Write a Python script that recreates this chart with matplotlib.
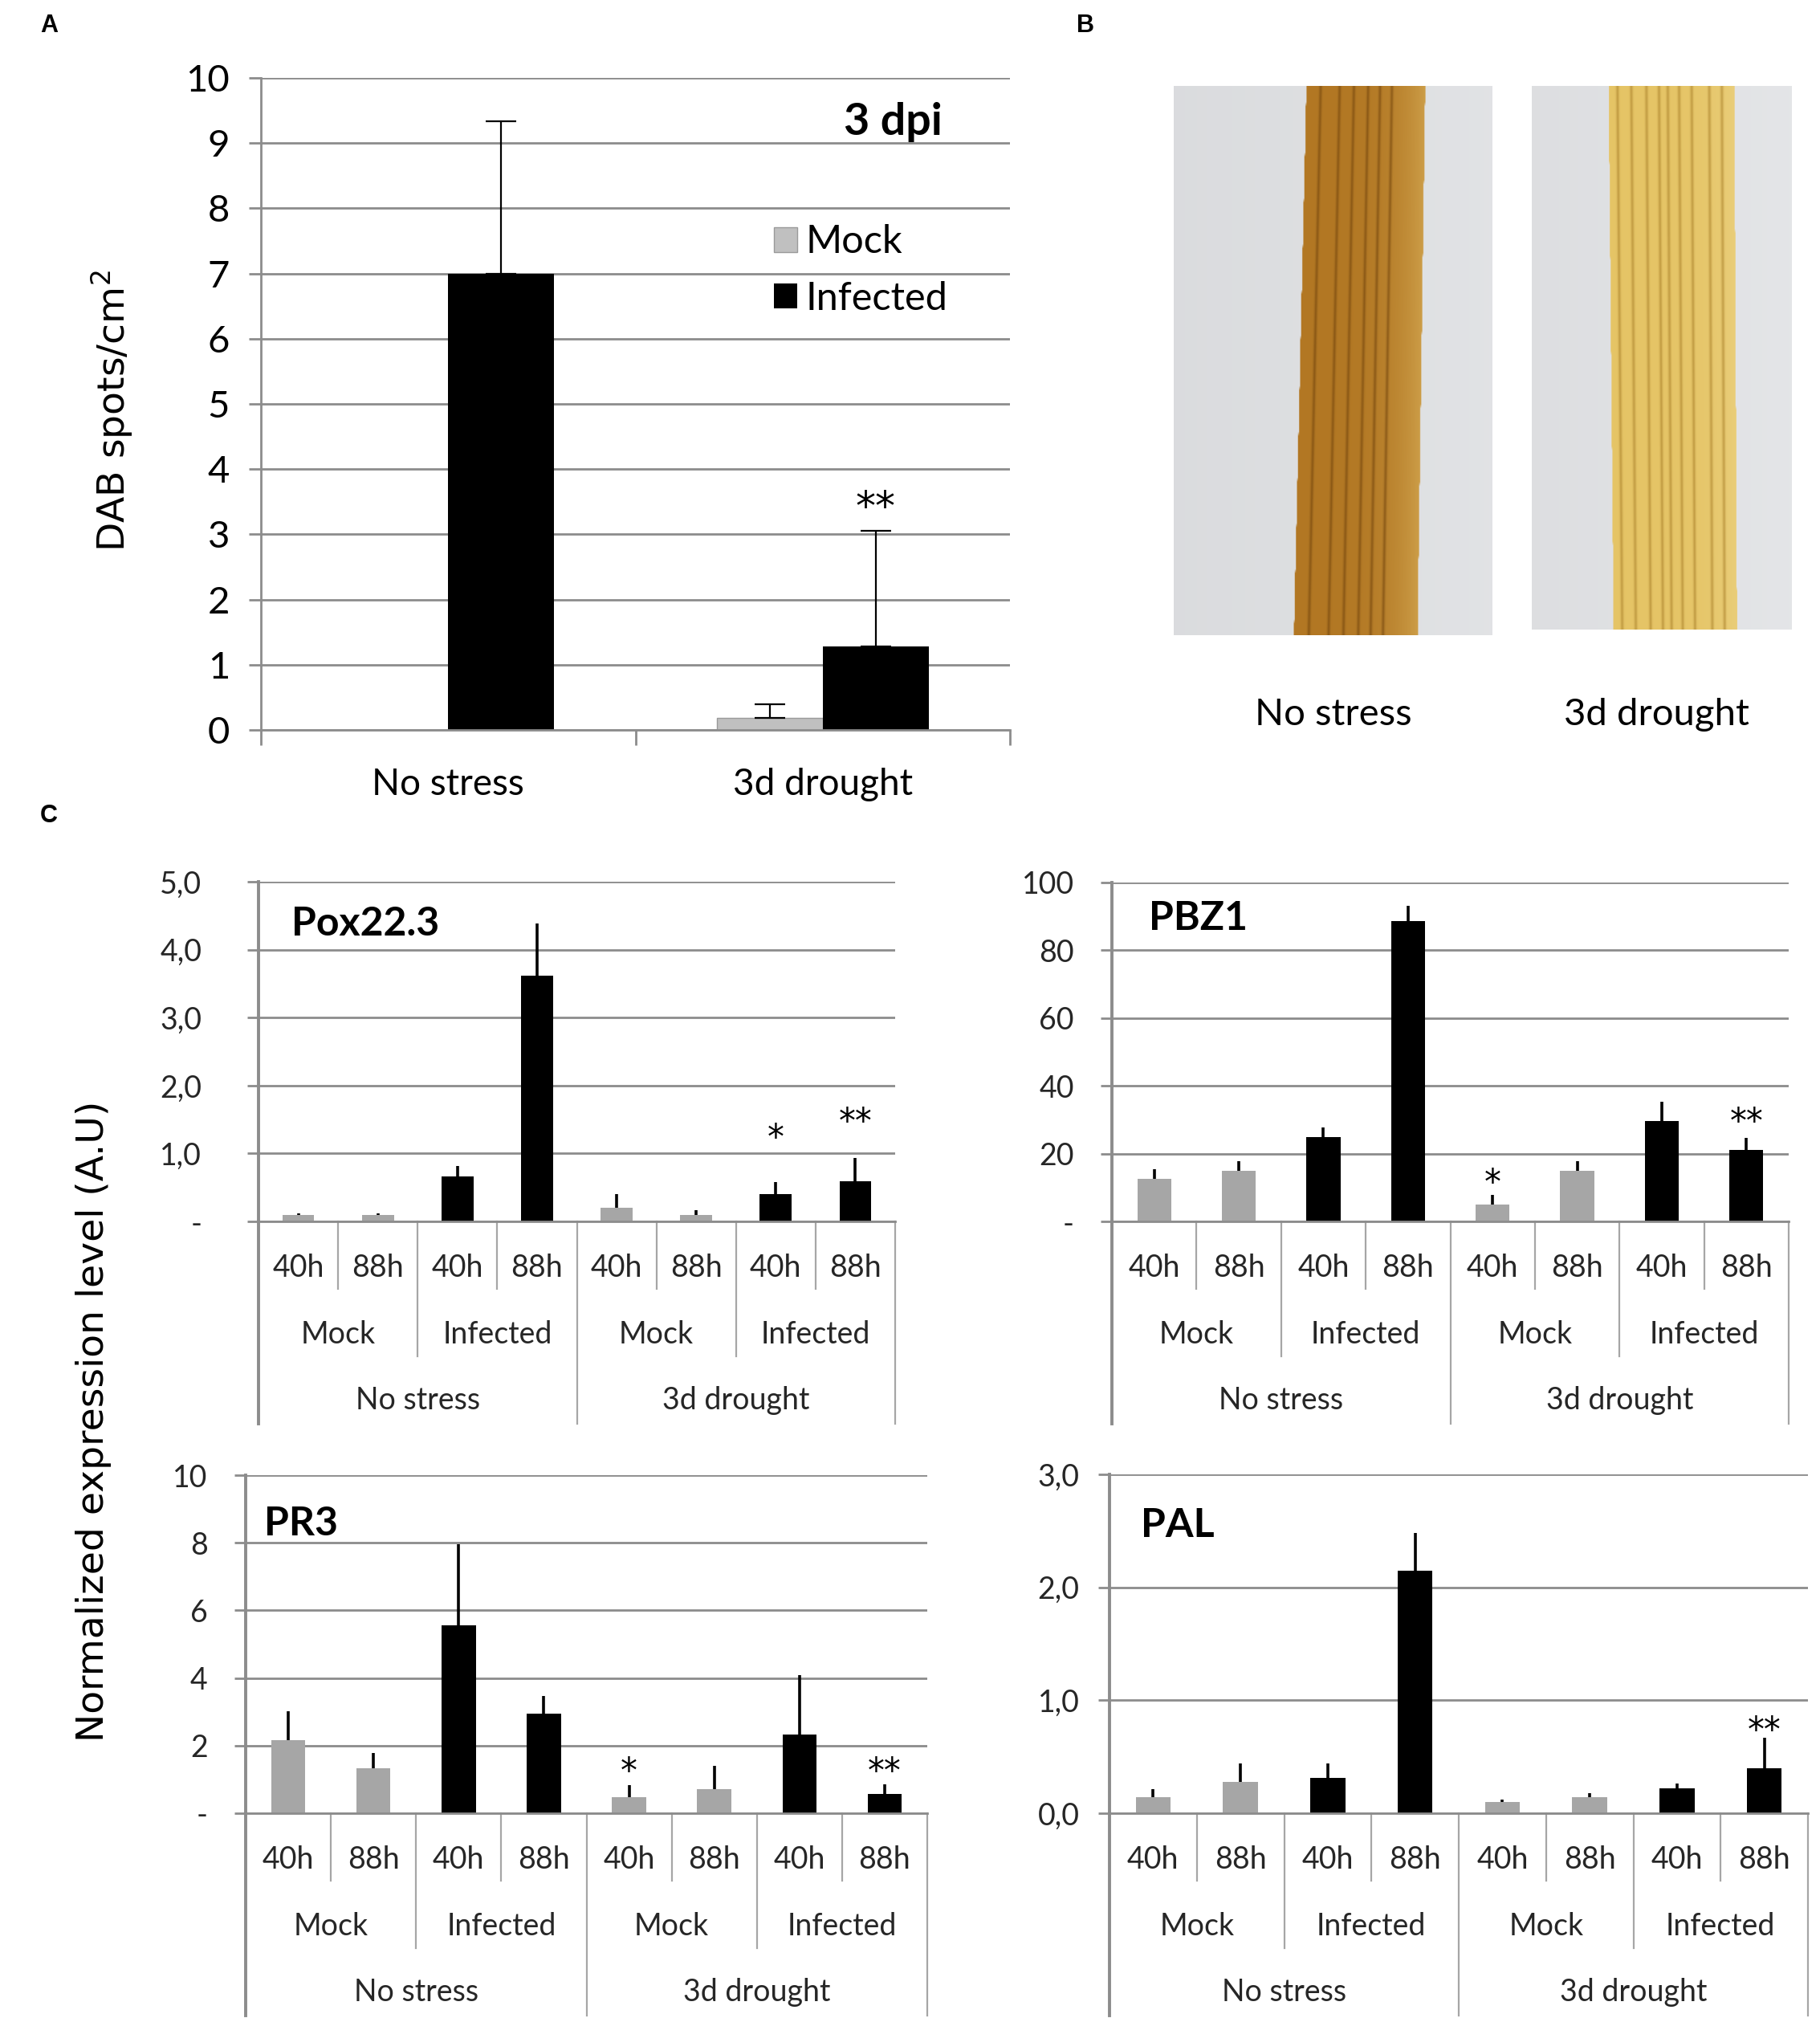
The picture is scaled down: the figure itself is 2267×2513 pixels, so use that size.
import numpy as np
import matplotlib
matplotlib.use("Agg")
import matplotlib.pyplot as plt
from matplotlib.transforms import blended_transform_factory

plt.rcParams['font.family'] = ['Lato', 'DejaVu Sans']

# ---- panel A data ----
a_groups = ['No stress', '3d drought']
a_mock = [0.0, 0.19]
a_mock_err = [0.0, 0.21]
a_inf = [7.0, 1.28]
a_inf_err = [2.34, 1.78]
a_sig_idx = [1]
a_sig_txt = ['**']
a_sig_y = [3.59]

# ---- panel C data ----
hours = ['40h', '88h', '40h', '88h', '40h', '88h', '40h', '88h']
treatments = ['Mock', 'Infected', 'Mock', 'Infected']
conditions = ['No stress', '3d drought']
infected = [0, 0, 1, 1, 0, 0, 1, 1]

pox_vals = [0.09, 0.09, 0.66, 3.62, 0.20, 0.09, 0.40, 0.59]
pox_err = [0.03, 0.03, 0.16, 0.76, 0.20, 0.07, 0.18, 0.34]
pox_sig_idx = [6, 7]
pox_sig_txt = ['*', '**']
pox_sig_y = [1.38, 1.61]
pox_ticks = [0, 1, 2, 3, 4, 5]
pox_ticklabels = ['-', '1,0', '2,0', '3,0', '4,0', '5,0']

pbz_vals = [12.5, 15.0, 24.9, 88.7, 4.9, 15.0, 29.7, 21.0]
pbz_err = [3.0, 2.8, 2.8, 4.5, 3.0, 2.8, 5.7, 3.7]
pbz_sig_idx = [4, 7]
pbz_sig_txt = ['*', '**']
pbz_sig_y = [14.2, 32.3]
pbz_ticks = [0, 20, 40, 60, 80, 100]
pbz_ticklabels = ['-', '20', '40', '60', '80', '100']

pr3_vals = [2.16, 1.33, 5.57, 2.95, 0.48, 0.72, 2.33, 0.56]
pr3_err = [0.86, 0.45, 2.38, 0.52, 0.36, 0.67, 1.75, 0.30]
pr3_sig_idx = [4, 7]
pr3_sig_txt = ['*', '**']
pr3_sig_y = [1.53, 1.53]
pr3_ticks = [0, 2, 4, 6, 8, 10]
pr3_ticklabels = ['-', '2', '4', '6', '8', '10']

pal_vals = [0.14, 0.28, 0.31, 2.15, 0.10, 0.14, 0.22, 0.40]
pal_err = [0.07, 0.16, 0.13, 0.33, 0.02, 0.04, 0.04, 0.27]
pal_sig_idx = [7]
pal_sig_txt = ['**']
pal_sig_y = [0.82]
pal_ticks = [0, 1, 2, 3]
pal_ticklabels = ['0,0', '1,0', '2,0', '3,0']

W, H = 2267, 2513
GRID = '#8c8c8c'
SEP = '#a6a6a6'
fig = plt.figure(figsize=(W / 100, H / 100), dpi=100)


def add_ax(l, r, t, b):
    return fig.add_axes([l / W, 1 - b / H, (r - l) / W, (b - t) / H])


def fx(px):
    return px / W


def fy(py):
    return 1 - py / H


def star(ax, xv, yv, s, size):
    # asterisks sit high in the em box, so anchor them on the glyph centre
    ax.annotate(s, (xv, yv), xytext=(0, -0.32 * size), textcoords='offset points',
                ha='center', va='center', fontsize=size, family='DejaVu Sans')


# ================= panel A =================
axA = add_ax(325, 1258, 97, 909)
x = np.arange(len(a_groups))
w = 0.283
mock_bars = axA.bar(x - w / 2, a_mock, w, color='#c0c0c0', edgecolor='#9a9a9a', linewidth=1, label='Mock', zorder=2)
inf_bars = axA.bar(x + w / 2, a_inf, w, color='black', label='Infected', zorder=2)
m = np.array(a_mock_err) > 0
axA.errorbar((x - w / 2)[m], np.array(a_mock)[m], yerr=[np.zeros(m.sum()), np.array(a_mock_err)[m]],
             fmt='none', ecolor='black', elinewidth=1.6, capsize=14, capthick=1.6, zorder=3)
axA.errorbar(x + w / 2, a_inf, yerr=[np.zeros(len(x)), a_inf_err],
             fmt='none', ecolor='black', elinewidth=1.6, capsize=14, capthick=1.6, zorder=3)
for i, t, yv in zip(a_sig_idx, a_sig_txt, a_sig_y):
    star(axA, x[i] + w / 2, yv, t, 36)
axA.set_xlim(-0.5, 1.5)
axA.set_ylim(0, 10)
axA.set_yticks(range(0, 11))
axA.yaxis.grid(True, color=GRID, lw=2)
axA.set_axisbelow(True)
for s in ['top', 'right']:
    axA.spines[s].set_visible(False)
for s in ['left', 'bottom']:
    axA.spines[s].set_color(GRID)
    axA.spines[s].set_linewidth(2)
axA.tick_params(axis='y', length=11, width=2, color=GRID, labelsize=34, pad=17)
axA.set_xticks([-0.5, 0.5, 1.5])
axA.set_xticklabels([])
axA.set_xticks(x, minor=True)
axA.set_xticklabels(a_groups, minor=True)
axA.tick_params(axis='x', which='major', length=14, width=2, color=GRID, direction='out')
axA.tick_params(axis='x', which='minor', length=0, labelsize=33, pad=34)
axA.text(0.91, 0.932, '3 dpi', transform=axA.transAxes, ha='right', va='center', fontsize=40, fontweight='bold')
axA.legend(handles=[mock_bars, inf_bars], loc='upper left', bbox_to_anchor=(fx(940), fy(255)),
           bbox_transform=fig.transFigure, frameon=False, fontsize=35, handlelength=0.6,
           handleheight=0.6, handletextpad=0.2, labelspacing=0.55, borderpad=0)
fig.text(fx(140), fy(512), 'DAB spots/cm$^2$', rotation=90, ha='center', va='center',
         fontsize=34, family='DejaVu Sans')

# ================= panel B (photos) =================


def stem_photo(ax, lt, rt, lb, rb, bg, stem, dark, light, streaks):
    rows, cols = 120, 300
    img = np.zeros((rows, cols, 3))
    xs = np.linspace(0, 1, cols)
    bg = np.array(bg)
    for r in range(rows):
        f = r / (rows - 1)
        left = lt + (lb - lt) * f
        right = rt + (rb - rt) * f
        row = np.tile(bg, (cols, 1)) * (0.985 + 0.03 * xs[:, None])
        inside = (xs >= left) & (xs <= right)
        u = (xs[inside] - left) / (right - left)
        col = np.array(stem)[None, :] * (1 - 0.5 * u[:, None] ** 4) + np.array(light)[None, :] * 0.5 * u[:, None] ** 4
        for s in streaks:
            k = np.exp(-((u - s) / 0.012) ** 2)[:, None]
            col = col * (1 - 0.6 * k) + np.array(dark)[None, :] * 0.6 * k
        row[inside] = col
        img[r] = np.clip(row, 0, 1)
    ax.imshow(img, aspect='auto', interpolation='bilinear')
    ax.axis('off')


axB1 = add_ax(1462, 1859, 107, 791)
stem_photo(axB1, 0.416, 0.79, 0.377, 0.766, (0.87, 0.875, 0.885), (0.70, 0.47, 0.14),
           (0.45, 0.27, 0.05), (0.90, 0.76, 0.42), [0.12, 0.28, 0.4, 0.52, 0.62, 0.72])
axB2 = add_ax(1908, 2232, 107, 784)
stem_photo(axB2, 0.295, 0.78, 0.314, 0.79, (0.88, 0.885, 0.895), (0.90, 0.77, 0.40),
           (0.68, 0.52, 0.18), (0.93, 0.84, 0.55), [0.07, 0.18, 0.3, 0.4, 0.47, 0.56, 0.66, 0.8, 0.9])
fig.text(fx(1661), fy(890), 'No stress', ha='center', va='center', fontsize=34)
fig.text(fx(2063), fy(890), '3d drought', ha='center', va='center', fontsize=34)

# ================= panel C =================


def expr_panel(geom, vals, errs, ticks, ticklabels, sig_idx, sig_txt, sig_y, gene, gene_xy, pad):
    l, r, t, b = geom
    ax = add_ax(l, r, t, b)
    xi = np.arange(len(vals))
    colors = ['black' if v else '#a6a6a6' for v in infected]
    ax.bar(xi, vals, 0.4, color=colors, zorder=2)
    ax.errorbar(xi, vals, yerr=[np.zeros(len(vals)), errs], fmt='none', ecolor='black',
                elinewidth=2.6, capsize=0, zorder=3)
    for i, s, yv in zip(sig_idx, sig_txt, sig_y):
        star(ax, xi[i], yv, s, 30)
    ax.set_xlim(-0.5, len(vals) - 0.5)
    ax.set_ylim(ticks[0], ticks[-1])
    ax.set_yticks(ticks)
    ax.set_yticklabels(ticklabels)
    ax.yaxis.grid(True, color=GRID, lw=2)
    ax.set_axisbelow(True)
    for s in ['top', 'right']:
        ax.spines[s].set_visible(False)
    ax.spines['left'].set_color(GRID)
    ax.spines['left'].set_linewidth(2.8)
    ax.spines['bottom'].set_color(GRID)
    ax.spines['bottom'].set_linewidth(2)
    ax.tick_params(axis='y', length=10, width=2, color=GRID, labelsize=27, pad=pad, labelcolor='#262626')
    ax.set_xticks([])
    tr = blended_transform_factory(ax.transData, fig.transFigure)
    # multi-level category axis
    for k in range(len(vals) + 1):
        xb = k - 0.5
        if k % 4 == 0:
            depth = 252
        elif k % 2 == 0:
            depth = 168
        else:
            depth = 84
        lw = 2.8 if k == 0 else 1.6
        ax.plot([xb, xb], [fy(b), fy(b + depth)], color=SEP if k else GRID, lw=lw,
                transform=tr, clip_on=False)
    for i, h in enumerate(hours):
        ax.text(i, fy(b + 58), h, transform=tr, ha='center', va='center', fontsize=27, color='#262626')
    for j, tname in enumerate(treatments):
        ax.text(2 * j + 0.5, fy(b + 141), tname, transform=tr, ha='center', va='center', fontsize=27, color='#262626')
    for j, cname in enumerate(conditions):
        ax.text(4 * j + 1.5, fy(b + 223), cname, transform=tr, ha='center', va='center', fontsize=27, color='#262626')
    fig.text(fx(gene_xy[0]), fy(gene_xy[1]), gene, ha='left', va='center', fontsize=36, fontweight='bold')
    return ax


expr_panel((322, 1115, 1098, 1521), pox_vals, pox_err, pox_ticks, pox_ticklabels,
           pox_sig_idx, pox_sig_txt, pox_sig_y, 'Pox22.3', (363, 1150), 41)
expr_panel((1385, 2228, 1099, 1521), pbz_vals, pbz_err, pbz_ticks, pbz_ticklabels,
           pbz_sig_idx, pbz_sig_txt, pbz_sig_y, 'PBZ1', (1431, 1143), 24)
expr_panel((306, 1155, 1837, 2258), pr3_vals, pr3_err, pr3_ticks, pr3_ticklabels,
           pr3_sig_idx, pr3_sig_txt, pr3_sig_y, 'PR3', (329, 1897), 24)
expr_panel((1382, 2252, 1836, 2258), pal_vals, pal_err, pal_ticks, pal_ticklabels,
           pal_sig_idx, pal_sig_txt, pal_sig_y, 'PAL', (1421, 1899), 17)

fig.text(fx(117), fy(1770), 'Normalized expression level (A.U)', rotation=90, ha='center',
         va='center', fontsize=34, family='DejaVu Sans')

# panel letters
for letter, (px, py) in zip(['A', 'B', 'C'], [(61, 32), (1352, 32), (61, 1016)]):
    fig.text(fx(px), fy(py), letter, ha='center', va='center', fontsize=22, fontweight='bold',
             family='Liberation Sans')

fig.savefig('out.png', dpi=100)
